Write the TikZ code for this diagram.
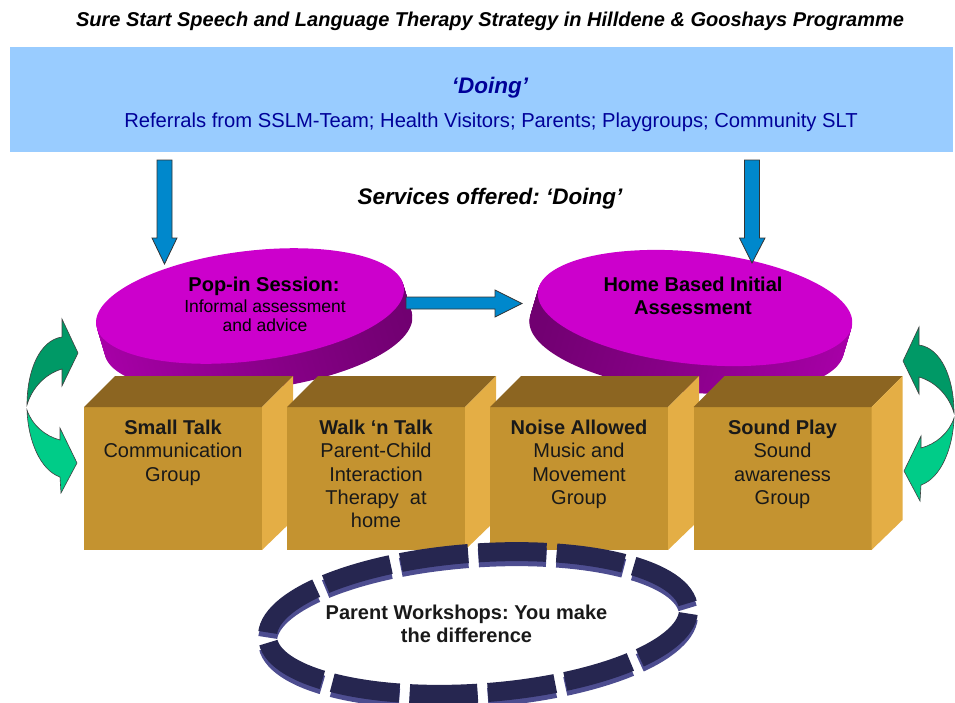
\documentclass[tikz,border=0pt]{standalone}
\usepackage{fontspec}
\setmainfont{Liberation Sans}
\frenchspacing

\definecolor{bannerblue}{HTML}{99CCFF}
\definecolor{navytext}{HTML}{000099}
\definecolor{arrowblue}{HTML}{0088CC}
\definecolor{diskmag}{HTML}{CC00CC}
\definecolor{disklight}{HTML}{A800A8}
\definecolor{diskdark}{HTML}{700070}
\definecolor{boxfront}{HTML}{C49330}
\definecolor{boxtop}{HTML}{8C6521}
\definecolor{boxside}{HTML}{E4AE45}
\definecolor{tilenavy}{HTML}{262650}
\definecolor{rimblue}{HTML}{4D4D90}
\definecolor{swapdark}{HTML}{009966}
\definecolor{swaplight}{HTML}{00CC88}

\tikzset{
  headline/.style={anchor=base, inner sep=0pt, font=\bfseries\itshape\fontsize{20}{24}\selectfont},
  bigline/.style={anchor=base, inner sep=0pt, text=navytext, font=\bfseries\itshape\fontsize{22.5}{26}\selectfont},
  banner/.style={rectangle, fill=bannerblue, minimum width=943pt, minimum height=105pt, inner sep=0pt, outer sep=0pt},
  bluearrow/.style={fill=arrowblue, draw=black!80, line width=0.8pt},
  disktitle/.style={anchor=north, inner sep=0pt, align=center, font=\bfseries\fontsize{20}{23.3}\selectfont},
  disknote/.style={anchor=north, inner sep=0pt, align=center, font=\fontsize{17.5}{19}\selectfont},
  cubefront/.style={rectangle, fill=boxfront, minimum width=178pt, minimum height=143pt, inner sep=0pt, outer sep=0pt},
  cubetop/.style={fill=boxtop},
  cubeside/.style={fill=boxside},
  cubetext/.style={anchor=north, inner sep=0pt, align=center, text=black!90, font=\fontsize{20}{23.2}\selectfont},
  swapup/.style={fill=swapdark, draw=black!75, line width=0.6pt},
  swapdown/.style={fill=swaplight, draw=black!75, line width=0.6pt},
  tilerim/.style={draw=rimblue, line width=19pt, dash pattern=on 68pt off 10.28pt, dash phase=73pt},
  tiletop/.style={draw=tilenavy, line width=19pt, dash pattern=on 68pt off 10.28pt, dash phase=73pt},
}

\begin{document}
\begin{tikzpicture}[x=1pt,y=-1pt]
\useasboundingbox (0,0) rectangle (955,702);

% heading and referral banner
\node[headline] (title) at (490,26.7) {Sure Start Speech and Language Therapy Strategy in Hilldene \& Gooshays Programme};
\node[banner] (banner) at (481.5,99.5) {};
\node[bigline] (doing) at (490,93) {‘Doing’};
\node[anchor=base, inner sep=0pt, text=navytext, font=\fontsize{20.2}{24}\selectfont] (referrals) at (491,127.5) {Referrals from SSLM-Team; Health Visitors; Parents; Playgroups; Community SLT};
\node[headline, font=\bfseries\itshape\fontsize{22.5}{26}\selectfont] (services) at (490,204) {Services offered: ‘Doing’};

% pop-in disk
\foreach \d in {28,...,1}
  \shade[left color=disklight, right color=diskdark, rotate around={7:(250+0.3*\d,306+\d)}] (250+0.3*\d,306+\d) ellipse [x radius=155, y radius=55];
\fill[diskmag, rotate around={7:(250,306)}] (250,306) ellipse [x radius=155, y radius=55];
\node[disktitle] (popin) at (264,276.4) {Pop-in Session:};
\node[disknote] (popnote) at (265,300) {Informal assessment\\and advice};

% home visit disk
\foreach \d in {28,...,1}
  \shade[left color=diskdark, right color=disklight, rotate around={-6:(695-0.3*\d,308+\d)}] (695-0.3*\d,308+\d) ellipse [x radius=158, y radius=56];
\fill[diskmag, rotate around={-6:(695,308)}] (695,308) ellipse [x radius=158, y radius=56];
\node[disktitle] (homevisit) at (693,276.4) {Home Based Initial\\Assessment};

% block arrows
\draw[bluearrow] (157,160) -- (172,160) -- (172,238) -- (177,238) -- (164.5,264) -- (152,238) -- (157,238) -- cycle;
\draw[bluearrow] (744.5,160) -- (759.5,160) -- (759.5,238) -- (765,238) -- (752,263) -- (739.5,238) -- (744.5,238) -- cycle;
\draw[bluearrow] (406,297) -- (495,297) -- (495,290) -- (522,303.5) -- (495,317) -- (495,309) -- (406,309) -- cycle;

% turning arrows at both ends
\filldraw[swapup] (27,405) .. controls (27,370) and (40,340) .. (62,337) -- (62,319) -- (78,353) -- (62,386) -- (62,369) .. controls (45,374) and (32,388) .. (27,405) -- cycle;
\filldraw[swapdown] (27,410) .. controls (28,440) and (40,470) .. (60,477) -- (61,493) -- (77,463) -- (60,428) -- (60,440) .. controls (45,436) and (32,425) .. (27,410) -- cycle;
\begin{scope}[shift={(981,8)}, xscale=-1]
\filldraw[swapup] (27,405) .. controls (27,370) and (40,340) .. (62,337) -- (62,319) -- (78,353) -- (62,386) -- (62,369) .. controls (45,374) and (32,388) .. (27,405) -- cycle;
\filldraw[swapdown] (27,410) .. controls (28,440) and (40,470) .. (60,477) -- (61,493) -- (77,463) -- (60,428) -- (60,440) .. controls (45,436) and (32,425) .. (27,410) -- cycle;
\end{scope}

% the four groups
\node[cubefront] (smalltalk) at (173,478.5) {};
\fill[cubetop] (smalltalk.north west) -- ++(31,-31) -- ++(178,0) -- (smalltalk.north east) -- cycle;
\fill[cubeside] (smalltalk.north east) -- ++(31,-31) -- ++(0,144) -- (smalltalk.south east) -- cycle;
\node[cubetext] (smalltalktxt) at (173,420) {\textbf{Small Talk}\\Communication\\Group};

\node[cubefront] (walktalk) at (376,478.5) {};
\fill[cubetop] (walktalk.north west) -- ++(31,-31) -- ++(178,0) -- (walktalk.north east) -- cycle;
\fill[cubeside] (walktalk.north east) -- ++(31,-31) -- ++(0,144) -- (walktalk.south east) -- cycle;
\node[cubetext] (walktalktxt) at (376,420) {\textbf{Walk ‘n Talk}\\Parent-Child\\Interaction\\Therapy~ at\\home};

\node[cubefront] (noise) at (579,478.5) {};
\fill[cubetop] (noise.north west) -- ++(31,-31) -- ++(178,0) -- (noise.north east) -- cycle;
\fill[cubeside] (noise.north east) -- ++(31,-31) -- ++(0,144) -- (noise.south east) -- cycle;
\node[cubetext] (noisetxt) at (579,420) {\textbf{Noise Allowed}\\Music and\\Movement\\Group};

\node[cubefront] (soundplay) at (782.5,478.5) {};
\fill[cubetop] (soundplay.north west) -- ++(31,-31) -- ++(178,0) -- (soundplay.north east) -- cycle;
\fill[cubeside] (soundplay.north east) -- ++(31,-31) -- ++(0,144) -- (soundplay.south east) -- cycle;
\node[cubetext] (soundplaytxt) at (782.5,420) {\textbf{Sound Play}\\Sound\\awareness\\Group};

% workshop ring
\draw[tilerim, rotate around={4:(478,628)}] (478,628) ellipse [x radius=211, y radius=70];
\draw[tiletop, rotate around={4:(478,623)}] (478,623) ellipse [x radius=211, y radius=70];
\node[disktitle, text=black!90] (workshops) at (466.5,604.7) {Parent Workshops: You make\\the difference};
\end{tikzpicture}
\end{document}
